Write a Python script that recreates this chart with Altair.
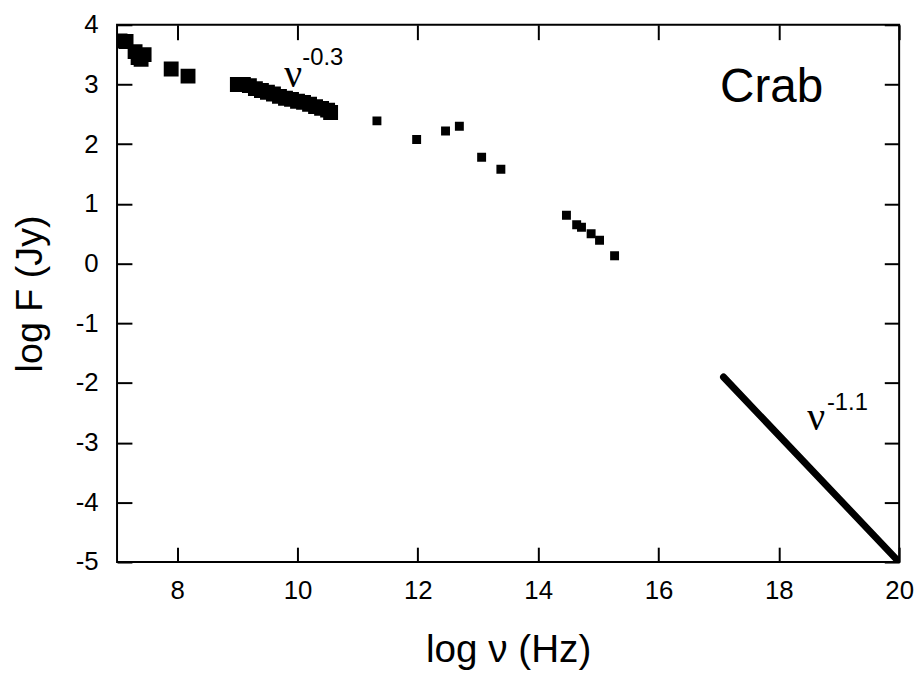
import altair as alt
import pandas as pd

# ---- data ----
big_x = [7.05, 7.15, 7.30, 7.35, 7.45, 7.40, 7.90, 8.18,
         9.00, 9.10, 9.20, 9.30, 9.40, 9.50, 9.60, 9.70, 9.80, 9.90,
         10.00, 10.10, 10.20, 10.30, 10.40, 10.50, 10.55]
big_y = [3.73, 3.72, 3.55, 3.45, 3.50, 3.42, 3.26, 3.14,
         3.00, 3.00, 2.98, 2.93, 2.90, 2.87, 2.84, 2.80, 2.77, 2.75,
         2.72, 2.70, 2.67, 2.63, 2.60, 2.57, 2.53]
small_x = [11.32, 11.98, 12.46, 12.69, 13.06, 13.38, 14.47, 14.64, 14.72, 14.88, 15.02, 15.27]
small_y = [2.39, 2.08, 2.22, 2.30, 1.78, 1.58, 0.81, 0.65, 0.61, 0.50, 0.39, 0.13]
line_x = [17.08, 20.0]
line_y = [-1.90, -5.0]

x_ticks = [8, 10, 12, 14, 16, 18, 20]
y_ticks = [-5, -4, -3, -2, -1, 0, 1, 2, 3, 4]

label_text = ["Crab"]
label_x = [17.88]
label_y = [2.70]
nu_text = ["\u03bd", "\u03bd"]
nu_x = [9.93, 18.62]
nu_y = [2.95, -2.79]
exp_text = ["-0.3", "-1.1"]
exp_x = [10.08, 18.80]
exp_y = [3.33, -2.46]

W, H = 789, 542
FONT = "Liberation Sans"

df_big = pd.DataFrame({"x": big_x, "y": big_y})
df_small = pd.DataFrame({"x": small_x, "y": small_y})
df_line = pd.DataFrame({"x": line_x, "y": line_y})
df_lab = pd.DataFrame({"x": label_x, "y": label_y, "t": label_text})
df_nu = pd.DataFrame({"x": nu_x, "y": nu_y, "t": nu_text})
df_exp = pd.DataFrame({"x": exp_x, "y": exp_y, "t": exp_text})

xs = alt.Scale(domain=[7, 20], nice=False, zero=False)
ys = alt.Scale(domain=[-5, 4], nice=False, zero=False)

tick_style = dict(labels=False, domain=False, ticks=True, tickSize=15, tickWidth=2,
                  tickColor="black", grid=False)
plain = "'' + datum.value"

ax_x_main = alt.Axis(orient="bottom", values=x_ticks, ticks=False, domain=False, grid=False,
                     labelFontSize=26, labelFont=FONT, labelColor="black", labelPadding=16,
                     labelFlush=False, labelOverlap=False, labelExpr=plain,
                     title="log \u03bd (Hz)", titleFont=FONT, titleFontSize=39,
                     titleFontWeight="normal", titleColor="black",
                     titleX=W / 2, titleY=100, titleBaseline="alphabetic")
ax_y_main = alt.Axis(orient="left", values=y_ticks, ticks=False, domain=False, grid=False,
                     labelFontSize=26, labelFont=FONT, labelColor="black", labelPadding=19,
                     labelOverlap=False, labelFlush=False, labelExpr=plain,
                     title="log F (Jy)", titleFont=FONT, titleFontSize=38,
                     titleFontWeight="normal", titleColor="black", titleAngle=270,
                     titleX=-76, titleY=H / 2, titleBaseline="alphabetic")
ax_x_bottom_in = alt.Axis(orient="top", offset=-H, values=x_ticks, **tick_style)
ax_x_top_in = alt.Axis(orient="bottom", offset=-H, values=x_ticks, **tick_style)
ax_y_left_in = alt.Axis(orient="right", offset=-W, values=y_ticks, **tick_style)
ax_y_right_in = alt.Axis(orient="left", offset=-W, values=y_ticks, **tick_style)

big = alt.Chart(df_big).mark_square(size=225, color="black", opacity=1, clip=True).encode(
    x=alt.X("x:Q", scale=xs, axis=ax_x_main),
    y=alt.Y("y:Q", scale=ys, axis=ax_y_main),
)
small = alt.Chart(df_small).mark_square(size=81, color="black", opacity=1, clip=True).encode(
    x=alt.X("x:Q", scale=xs, axis=ax_x_bottom_in, title=None),
    y=alt.Y("y:Q", scale=ys, axis=ax_y_left_in, title=None),
)
line = alt.Chart(df_line).mark_line(color="black", strokeWidth=7, strokeCap="round", clip=True).encode(
    x=alt.X("x:Q", scale=xs, axis=ax_x_top_in, title=None),
    y=alt.Y("y:Q", scale=ys, axis=ax_y_right_in, title=None),
)
crab = alt.Chart(df_lab).mark_text(font=FONT, fontSize=48, align="center",
                                   baseline="alphabetic", color="black").encode(
    x=alt.X("x:Q", scale=xs, axis=None),
    y=alt.Y("y:Q", scale=ys, axis=None),
    text="t:N",
)
nu = alt.Chart(df_nu).mark_text(font="Liberation Serif", fontSize=40, align="center",
                                baseline="alphabetic", color="black").encode(
    x=alt.X("x:Q", scale=xs, axis=None),
    y=alt.Y("y:Q", scale=ys, axis=None),
    text="t:N",
)
exps = alt.Chart(df_exp).mark_text(font=FONT, fontSize=24, align="left",
                                   baseline="alphabetic", color="black").encode(
    x=alt.X("x:Q", scale=xs, axis=None),
    y=alt.Y("y:Q", scale=ys, axis=None),
    text="t:N",
)

chart = alt.layer(big, small, line, crab, nu, exps).resolve_axis(
    x="independent", y="independent"
).properties(
    width=W, height=H,
    autosize=alt.AutoSizeParams(type="none"),
    padding={"left": 110, "top": 14, "right": 17, "bottom": 113},
    background="white",
).configure_view(stroke="black", strokeWidth=2)

chart.save("out.html", embed_options={"renderer": "svg", "actions": False})
